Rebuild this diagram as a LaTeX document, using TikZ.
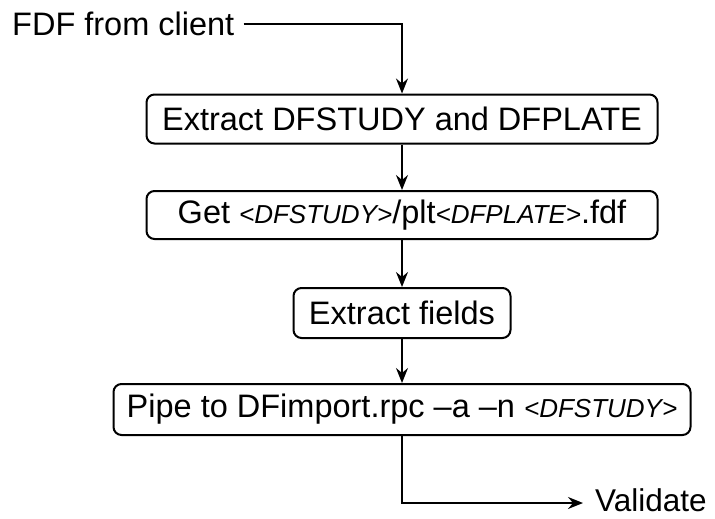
\documentclass[tikz,border=0pt]{standalone}
\usepackage{fontspec}
\setmainfont{Liberation Sans}
\usetikzlibrary{arrows.meta}

% smaller italic for placeholder names
\newcommand\placeholder[1]{{\fontsize{26}{30}\selectfont\itshape #1}}

\begin{document}
\begin{tikzpicture}[x=1pt,y=-1pt,
  txt/.style={inner sep=0pt, font=\fontsize{32.5}{36}\selectfont},
  proc/.style={draw, line width=2pt, rounded corners=8pt, inner sep=0pt,
               font=\fontsize{32.5}{36}\selectfont},
  flow/.style={line width=2pt, -{Stealth[length=15pt,width=12pt,inset=5pt]}}]
\useasboundingbox (0,0) rectangle (715,519);

\node[txt, anchor=base west] (src) at (12,36) {FDF from client};

\node[proc, minimum width=511, minimum height=49] (b1) at (402,119)
  {Extract DFSTUDY and DFPLATE};
\node[proc, minimum width=511, minimum height=48] (b2) at (402,215)
  {Get \placeholder{<DFSTUDY>}/plt\placeholder{<DFPLATE>}.fdf};
\node[proc, minimum width=217, minimum height=50] (b3) at (402,313)
  {Extract fields};
\node[proc, minimum width=577, minimum height=51] (b4) at (402,409.5)
  {Pipe to DFimport.rpc –a –n \placeholder{<DFSTUDY>}};

\node[txt, font=\fontsize{31.5}{36}\selectfont, anchor=base west] (val) at (595,511) {Validate};
\coordinate (valin) at (583,503);

\draw[flow] ([xshift=9pt]src.east) -| (b1.north);
\draw[flow] (b1) -- (b2);
\draw[flow] (b2) -- (b3);
\draw[flow] (b3) -- (b4);
\draw[flow] (b4.south) |- (valin);
\end{tikzpicture}
\end{document}
